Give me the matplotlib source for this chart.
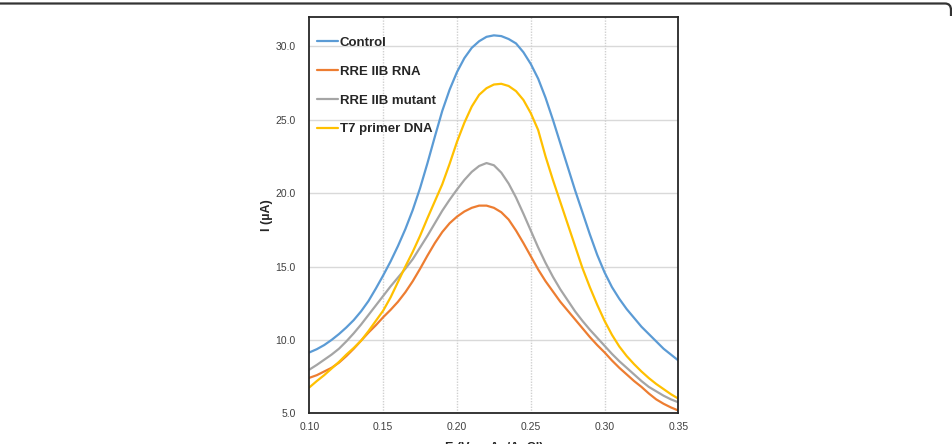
import matplotlib
matplotlib.use("Agg")
import matplotlib.pyplot as plt
from matplotlib.path import Path
from matplotlib.patches import PathPatch

plt.rcParams["font.family"] = ["Liberation Sans", "DejaVu Sans"]

# -----------------------------
# Data (current in uA vs potential in V)
# -----------------------------
potential = [0.100, 0.105, 0.110, 0.115, 0.120, 0.125, 0.130, 0.135, 0.140, 0.145,
             0.150, 0.155, 0.160, 0.165, 0.170, 0.175, 0.180, 0.185, 0.190, 0.195,
             0.200, 0.205, 0.210, 0.215, 0.220, 0.225, 0.230, 0.235, 0.240, 0.245,
             0.250, 0.255, 0.260, 0.265, 0.270, 0.275, 0.280, 0.285, 0.290, 0.295,
             0.300, 0.305, 0.310, 0.315, 0.320, 0.325, 0.330, 0.335, 0.340, 0.345,
             0.350]

control = [9.15, 9.37, 9.65, 10.0, 10.4, 10.85, 11.35, 11.95, 12.65, 13.5,
           14.4, 15.35, 16.4, 17.55, 18.85, 20.35, 22.05, 23.85, 25.6, 27.05,
           28.25, 29.2, 29.9, 30.35, 30.65, 30.75, 30.7, 30.5, 30.2, 29.6,
           28.8, 27.8, 26.5, 25.0, 23.4, 21.8, 20.2, 18.7, 17.2, 15.8,
           14.6, 13.6, 12.8, 12.1, 11.5, 10.9, 10.4, 9.9, 9.4, 9.0,
           8.6]

rre_rna = [7.42, 7.6, 7.85, 8.1, 8.45, 8.9, 9.4, 9.95, 10.5, 11.0,
           11.55, 12.05, 12.6, 13.25, 14.0, 14.85, 15.75, 16.6, 17.35, 17.95,
           18.4, 18.75, 19.0, 19.15, 19.15, 19.0, 18.7, 18.2, 17.45, 16.6,
           15.7, 14.8, 14.0, 13.3, 12.6, 12.0, 11.4, 10.8, 10.2, 9.65,
           9.15, 8.6, 8.1, 7.65, 7.2, 6.8, 6.35, 5.95, 5.65, 5.4,
           5.19]

rre_mutant = [7.98, 8.3, 8.65, 9.0, 9.4, 9.9, 10.45, 11.05, 11.7, 12.35,
              13.0, 13.65, 14.25, 14.85, 15.5, 16.3, 17.1, 17.95, 18.8, 19.55,
              20.25, 20.9, 21.45, 21.85, 22.05, 21.9, 21.4, 20.65, 19.7, 18.6,
              17.45, 16.3, 15.25, 14.3, 13.45, 12.7, 11.95, 11.3, 10.7, 10.15,
              9.6, 9.05, 8.55, 8.1, 7.65, 7.2, 6.8, 6.5, 6.2, 5.95,
              5.75]

t7_dna = [6.77, 7.2, 7.6, 8.05, 8.5, 9.0, 9.45, 9.95, 10.6, 11.3,
          12.0, 12.9, 13.95, 15.0, 16.0, 17.1, 18.3, 19.45, 20.6, 22.0,
          23.5, 24.8, 25.9, 26.7, 27.15, 27.4, 27.45, 27.3, 26.95, 26.35,
          25.45, 24.3, 22.5, 20.9, 19.4, 17.9, 16.4, 14.9, 13.6, 12.4,
          11.3, 10.35, 9.55, 8.9, 8.35, 7.85, 7.4, 7.0, 6.65, 6.3,
          6.0]

series_names = ["Control", "RRE IIB RNA", "RRE IIB mutant", "T7 primer DNA"]
series_colors = ["#5B9BD5", "#ED7D31", "#A5A5A5", "#FFC000"]

x_ticks = [0.10, 0.15, 0.20, 0.25, 0.30, 0.35]
y_ticks = [5.0, 10.0, 15.0, 20.0, 25.0, 30.0]


def main():
    fig = plt.figure(figsize=(9.53, 4.44), dpi=100)
    ax = fig.add_axes([0.3247, 0.0691, 0.3871, 0.8926])

    all_series = [control, rre_rna, rre_mutant, t7_dna]
    for values, name, color in zip(all_series, series_names, series_colors):
        ax.plot(potential, values, color=color, lw=1.6, label=name,
                solid_capstyle="round", solid_joinstyle="round")

    ax.set_xlim(0.10, 0.35)
    ax.set_ylim(5.0, 32.0)
    ax.set_xticks(x_ticks)
    ax.set_xticklabels([f"{t:.2f}" for t in x_ticks])
    ax.set_yticks(y_ticks)
    ax.set_yticklabels([f"{t:.1f}" for t in y_ticks])
    ax.tick_params(axis="both", length=0, labelsize=7.5, colors="#404040")
    ax.tick_params(axis="y", pad=10)
    ax.tick_params(axis="x", pad=6)

    # horizontal grid solid, vertical grid dotted
    for yv in y_ticks[1:]:
        ax.axhline(yv, color="#d9d9d9", lw=1.0, zorder=0)
    for xv in x_ticks[1:-1]:
        ax.axvline(xv, color="#d0d0d0", lw=1.0, ls=(0, (1, 1)), zorder=0)

    for spine in ax.spines.values():
        spine.set_color("#262626")
        spine.set_linewidth(1.3)

    ax.set_ylabel("I (µA)", fontsize=9, fontweight="bold", color="#262626")
    ax.yaxis.set_label_coords(-0.10, 0.5)
    ax.set_xlabel("E (V vs Ag/AgCl)", fontsize=9, fontweight="bold",
                  color="#262626")
    ax.xaxis.set_label_coords(0.5, -0.072)

    leg = ax.legend(loc="upper left", bbox_to_anchor=(0.02, 0.95),
                    frameon=False, fontsize=9.5, handlelength=1.6,
                    handletextpad=0.15, labelspacing=1.25, borderpad=0,
                    borderaxespad=0)
    for text in leg.get_texts():
        text.set_fontweight("bold")
        text.set_color("#262626")

    # top border of the surrounding frame with a rounded right corner
    W, H = 953.0, 444.0
    verts = [(0 / W, 1 - 3.5 / H), (945 / W, 1 - 3.5 / H),
             (951 / W, 1 - 3.5 / H), (951 / W, 1 - 10 / H),
             (951 / W, 1 - 16 / H)]
    codes = [Path.MOVETO, Path.LINETO, Path.CURVE3, Path.CURVE3, Path.LINETO]
    frame = PathPatch(Path(verts, codes), transform=fig.transFigure,
                      fill=False, edgecolor="#333333", lw=1.6)
    fig.add_artist(frame)

    fig.savefig("out.png", dpi=100)
    plt.close(fig)


if __name__ == "__main__":
    main()
